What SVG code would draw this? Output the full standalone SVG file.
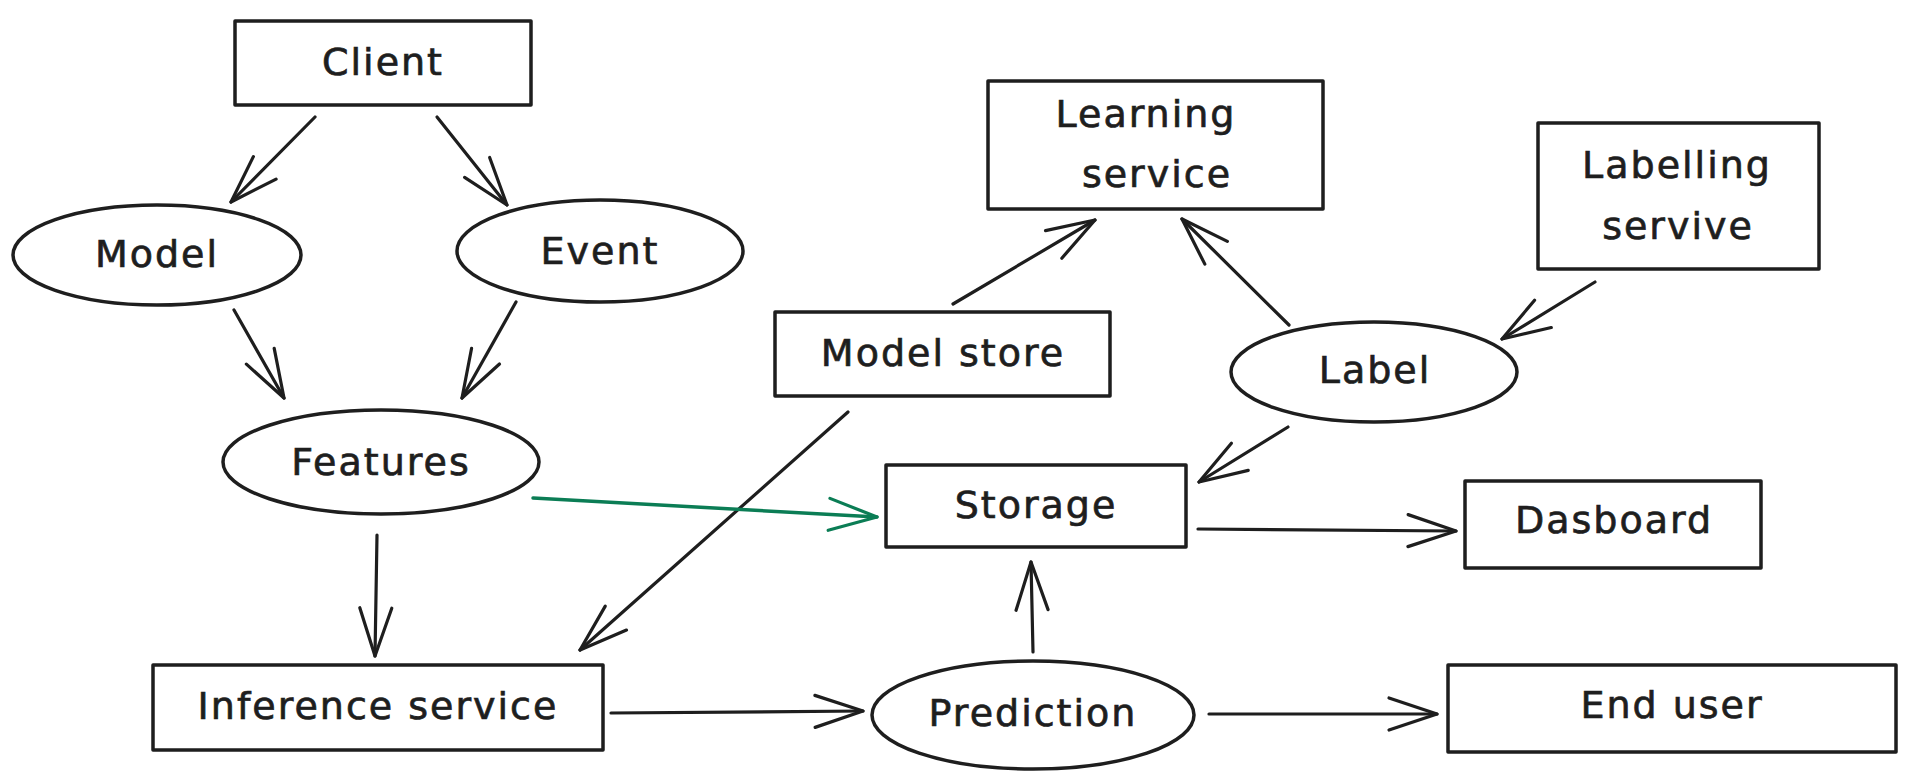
<svg xmlns="http://www.w3.org/2000/svg" width="1920" height="772" viewBox="0 0 1920 772">
<style>
.box{fill:#fff;stroke:#1e1e1e;stroke-width:3.5;stroke-linejoin:round}
.lbl{font-family:"DejaVu Sans","Liberation Sans",sans-serif;font-size:38px;letter-spacing:2px;fill:#1e1e1e;stroke:#1e1e1e;stroke-width:0.7;text-anchor:middle;dominant-baseline:central}
.edge{fill:none;stroke:#1e1e1e;stroke-width:3.2;stroke-linecap:round;marker-end:url(#ah)}
.green{stroke:#0b7d55;stroke-width:3.5;marker-end:url(#ahg)}
</style>
<defs>
<marker id="ah" markerUnits="userSpaceOnUse" markerWidth="60" markerHeight="40" viewBox="-52 -20 56 40" refX="0" refY="0" orient="auto">
<path d="M-48,-16 L0,0 L-48,16" fill="none" stroke="#1e1e1e" stroke-width="3.2" stroke-linecap="round" stroke-linejoin="round"/>
</marker>
<marker id="ahg" markerUnits="userSpaceOnUse" markerWidth="60" markerHeight="40" viewBox="-52 -20 56 40" refX="0" refY="0" orient="auto">
<path d="M-48,-16 L0,0 L-48,16" fill="none" stroke="#0b7d55" stroke-width="3.2" stroke-linecap="round" stroke-linejoin="round"/>
</marker>
</defs>
<rect width="1920" height="772" fill="#fff"/>
<g id="connectors">
<path class="edge" d="M315,117 L231,202"/>
<path class="edge" d="M437,117 L507,205"/>
<path class="edge" d="M234,310 L284,398"/>
<path class="edge" d="M516,302 L462,398"/>
<path class="edge" d="M377,535 L375,656"/>
<path class="edge" d="M848,412 L580,650"/>
<path class="edge green" d="M533,498 L877,517"/>
<path class="edge" d="M611,713 L863,711"/>
<path class="edge" d="M1033,652 L1031,562"/>
<path class="edge" d="M1209,714 L1437,714"/>
<path class="edge" d="M1198,529 L1456,531"/>
<path class="edge" d="M1288,427 L1199,482"/>
<path class="edge" d="M953,304 L1095,220"/>
<path class="edge" d="M1289,325 L1182,219"/>
<path class="edge" d="M1595,282 L1502,339"/>
</g>
<g id="client"><rect class="box" x="235" y="21" width="296" height="84"/><text class="lbl" x="383" y="62">Client</text></g>
<g id="model"><ellipse class="box" cx="157" cy="255" rx="144" ry="50"/><text class="lbl" x="157" y="254">Model</text></g>
<g id="event"><ellipse class="box" cx="600" cy="251" rx="143" ry="51"/><text class="lbl" x="600" y="251">Event</text></g>
<g id="features"><ellipse class="box" cx="381" cy="462" rx="158" ry="52"/><text class="lbl" x="381" y="462">Features</text></g>
<g id="inference"><rect class="box" x="153" y="665" width="450" height="85"/><text class="lbl" x="378" y="706">Inference service</text></g>
<g id="prediction"><ellipse class="box" cx="1033" cy="715" rx="161" ry="54"/><text class="lbl" x="1033" y="713">Prediction</text></g>
<g id="enduser"><rect class="box" x="1448" y="665" width="448" height="87"/><text class="lbl" x="1672" y="705">End user</text></g>
<g id="storage"><rect class="box" x="886" y="465" width="300" height="82"/><text class="lbl" x="1036" y="505">Storage</text></g>
<g id="dasboard"><rect class="box" x="1465" y="481" width="296" height="87"/><text class="lbl" x="1614" y="520">Dasboard</text></g>
<g id="modelstore"><rect class="box" x="775" y="312" width="335" height="84"/><text class="lbl" x="943" y="353">Model store</text></g>
<g id="learning"><rect class="box" x="988" y="81" width="335" height="128"/><text class="lbl" x="1146" y="114">Learning</text><text class="lbl" x="1157" y="174">service</text></g>
<g id="labelling"><rect class="box" x="1538" y="123" width="281" height="146"/><text class="lbl" x="1677" y="165">Labelling</text><text class="lbl" x="1678" y="226">servive</text></g>
<g id="label"><ellipse class="box" cx="1374" cy="372" rx="143" ry="50"/><text class="lbl" x="1375" y="370">Label</text></g>
</svg>
